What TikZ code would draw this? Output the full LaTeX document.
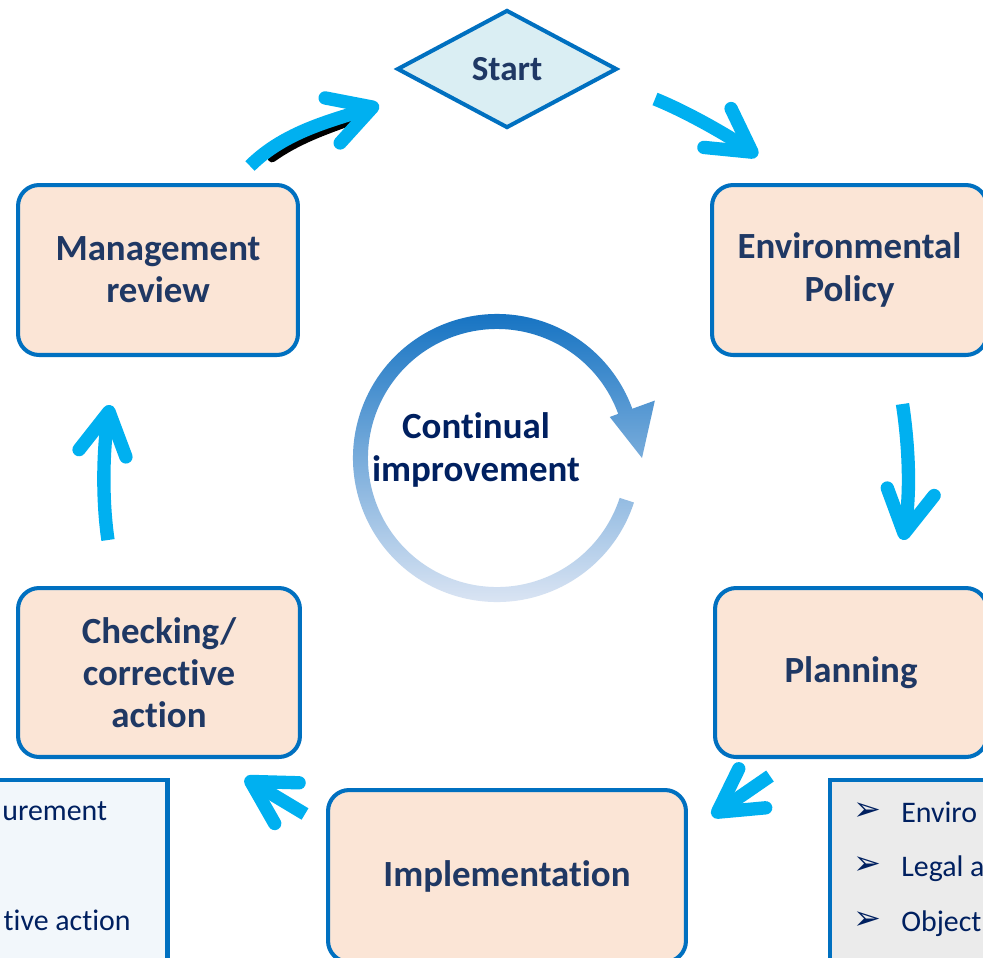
\documentclass[tikz,border=0pt]{standalone}
\usepackage{fontspec}
\setmainfont{Carlito}[Ligatures=NoCommon]
\newfontfamily\symfont{DejaVu Sans}
\usetikzlibrary{shapes.geometric, arrows.meta, calc}

\definecolor{boxblue}{HTML}{0070C0}
\definecolor{boxfill}{HTML}{FBE5D6}
\definecolor{startfill}{HTML}{DAEEF3}
\definecolor{navy}{HTML}{1F3864}
\definecolor{deepnavy}{HTML}{002060}
\definecolor{flowcyan}{HTML}{00B0F0}
\definecolor{listfill}{HTML}{F2F7FB}
\definecolor{listgray}{HTML}{EBEBEB}
\definecolor{ringtop}{HTML}{0B6DC0}
\definecolor{ringmid}{HTML}{A9C3E7}
\definecolor{ringbot}{HTML}{E6EBF6}

\tikzset{
	stage/.style={draw=boxblue, line width=2.3pt, fill=boxfill, rounded corners=12pt,
		minimum width=5.6cm, minimum height=3.4cm, align=center, text=navy,
		font=\fontsize{21}{24}\selectfont\bfseries},
	flow/.style={draw=flowcyan, line width=7.6pt, -{Straight Barb[round, length=24pt, width=27pt]}},
	listbox/.style={draw=boxblue, line width=2.6pt, inner sep=0pt},
	listtext/.style={text=deepnavy, font=\fontsize{17}{20}\selectfont, inner sep=0pt},
	bullet/.style={text=deepnavy, font=\symfont\fontsize{19}{22}\selectfont, inner sep=0pt}
}

\begin{document}
\begin{tikzpicture}[x=0.02cm, y=-0.02cm]
		\path[use as bounding box, fill=white] (0,0) rectangle (983,957);
		\clip (0,0) rectangle (983,957);

		\node[diamond, draw=boxblue, line width=2.3pt, fill=startfill, minimum width=4.4cm,
			minimum height=2.36cm, inner sep=0pt, text=navy,
			font=\fontsize{20}{24}\selectfont\bfseries] (start) at (507,69) {Start};
		\node[stage] (mgmt) at (158,270) {Management\\review};
		\node[stage, minimum width=5.5cm] (policy) at (849.5,270) {Environmental\\Policy};
		\node[stage, minimum width=5.44cm, minimum height=3.38cm] (planning) at (851,672.5) {Planning};
		\node[stage, minimum width=7.16cm, minimum height=3.44cm] (impl) at (507,876) {Implementation};
		\node[stage, minimum width=5.64cm, minimum height=3.38cm] (checking) at (159,672.5) {Checking/\\corrective\\action};

		\node[listbox, fill=listfill, minimum width=3.79cm, minimum height=4.2cm] (checklist) at (72.75,885) {};
		\node[listtext, anchor=base west] (check1) at (2,820) {urement};
		\node[listtext, anchor=base east] (check3) at (131,930) {tive action};

		\node[listbox, fill=listgray, minimum width=4cm, minimum height=4.2cm] (planlist) at (930,885) {};
		\node[bullet, anchor=base west] (dot1) at (853,820) {➢};
		\node[bullet, anchor=base west] (dot2) at (853,874) {➢};
		\node[bullet, anchor=base west] (dot3) at (853,929) {➢};
		\node[listtext, anchor=base west] (plan1) at (901,822) {Enviro};
		\node[listtext, anchor=base west] (plan2) at (901,876) {Legal a};
		\node[listtext, anchor=base west] (plan3) at (901,931) {Object};

		\coordinate (ring) at (497,458);
		\shade[top color=ringtop, middle color=ringmid, bottom color=ringbot]
			($(ring)+(18:144)$) arc[start angle=18, end angle=340, radius=144]
			-- ($(ring)+(340:168)$) -- ($(ring)+(0:145)$) -- ($(ring)+(340:120)$)
			-- ($(ring)+(340:129)$) arc[start angle=340, end angle=18, radius=129] -- cycle;
		\node[text=deepnavy, align=center, font=\fontsize{21}{24}\selectfont\bfseries] (improve) at (476,450) {Continual\\improvement};

		\draw[black, line width=5pt, line cap=round]
			($(mgmt.north)+(114,-25)$) .. controls +(25,-18) and +(-22,8) .. ($(start.west)+(-47,53)$);
		\draw[flow] ($(mgmt.north)+(92,-17)$) .. controls +(35,-35) and +(-45,15) .. ($(start.west)+(-16,36)$);
		\draw[flow] ($(start.east)+(36,30)$) .. controls +(30,12) and +(-30,-21) .. ($(policy.north)+(-92,-27)$);
		\draw[flow] ($(policy.south)+(53,47)$) .. controls +(6,40) and +(8,-50) .. ($(planning.north)+(52,-46)$);
		\draw[flow] ($(planning.south)+(-81,17)$) -- ($(impl.north east)+(24,28)$);
		\draw[flow] ($(impl.north west)+(-21,26)$) -- ($(checking.south east)+(-57,19)$);
		\draw[flow] ($(checking.north)+(-51,-46)$) .. controls +(-6,-40) and +(-7,45) .. ($(mgmt.south)+(-48,48)$);
	\end{tikzpicture}
\end{document}
